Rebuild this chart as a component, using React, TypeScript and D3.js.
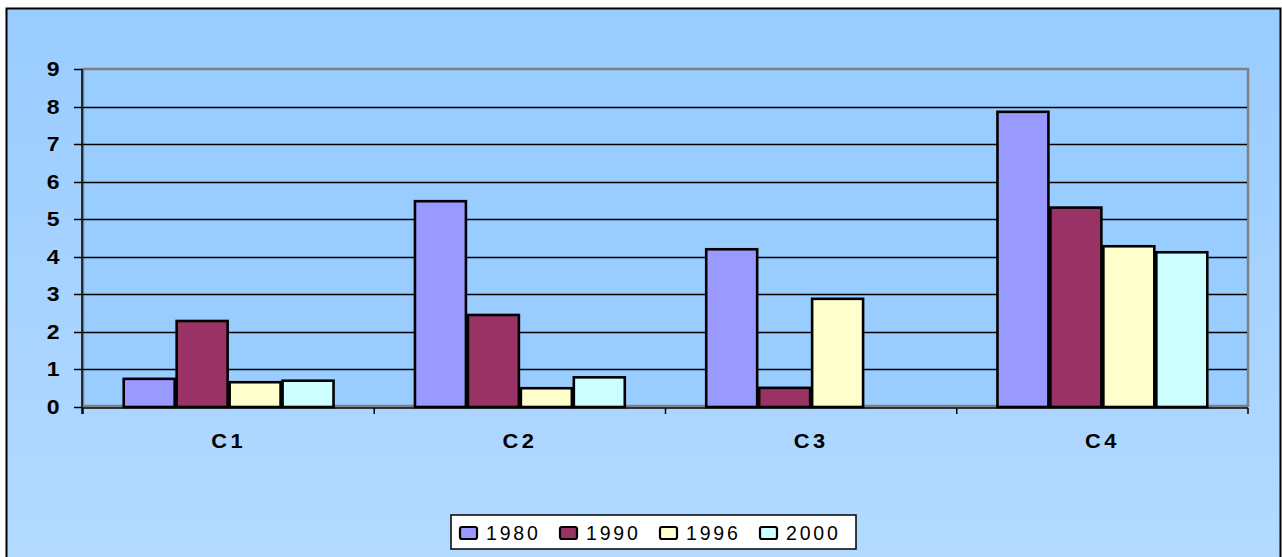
import React from "react";
import * as d3 from "d3";

const categories = ["C1", "C2", "C3", "C4"];
const seriesNames = ["1980", "1990", "1996", "2000"];
const values1980 = [0.75, 5.48, 4.2, 7.86];
const values1990 = [2.29, 2.45, 0.51, 5.31];
const values1996 = [0.66, 0.5, 2.88, 4.28];
const values2000 = [0.7, 0.79, 0, 4.12];
const yTicks = [0, 1, 2, 3, 4, 5, 6, 7, 8, 9];
const colors = ["#9999FF", "#993366", "#FFFFCC", "#CCFFFF"];

const W = 1282;
const H = 557;
const plot = { left: 83, right: 1248, top: 69, bottom: 407 };

export default function App() {
  const series = [values1980, values1990, values1996, values2000];
  const x0 = d3
    .scaleBand<string>()
    .domain(categories)
    .range([plot.left, plot.right])
    .paddingInner(0)
    .paddingOuter(0);
  const catW = x0.bandwidth();
  const barW = catW / (seriesNames.length + 1.5);
  const x1 = d3
    .scaleBand<string>()
    .domain(seriesNames)
    .range([0.75 * barW, 0.75 * barW + barW * seriesNames.length]);
  const y = d3.scaleLinear().domain([0, 9]).range([plot.bottom, plot.top]);
  const font = "'Liberation Sans', Arial, sans-serif";
  const boundaries = [...categories.map((c) => x0(c)!), plot.right];

  return (
    <svg
      width={W}
      height={H}
      style={{ position: "absolute", left: 0, top: 0, display: "block" }}
    >
      <defs>
        <linearGradient id="bg" x1="0" y1="0" x2="0" y2="1">
          <stop offset="0%" stopColor="#99CCFF" />
          <stop offset="100%" stopColor="#B4DAFF" />
        </linearGradient>
      </defs>
      <rect x={0} y={0} width={W} height={H} fill="#fff" />
      <rect
        x={6.5}
        y={8.5}
        width={1274}
        height={560}
        fill="url(#bg)"
        stroke="#000"
        strokeWidth={2}
      />
      {/* plot area */}
      <rect
        x={plot.left}
        y={plot.top}
        width={plot.right - plot.left}
        height={plot.bottom - plot.top - 1}
        fill="#99CCFF"
        stroke="#808080"
        strokeWidth={2.5}
      />
      {/* gridlines */}
      {yTicks
        .filter((t) => t > 0 && t < 9)
        .map((t) => (
          <line
            key={t}
            x1={plot.left}
            x2={plot.right - 1}
            y1={Math.round(y(t)) + 0.5}
            y2={Math.round(y(t)) + 0.5}
            stroke="#000"
            strokeWidth={1.3}
          />
        ))}
      {/* bars */}
      {categories.map((c, ci) => (
        <g key={c}>
          {seriesNames.map((s, si) => {
            const v = series[si][ci];
            if (!v) return null;
            const bx = x0(c)! + x1(s)!;
            return (
              <rect
                key={s}
                x={bx + 1}
                y={y(v)}
                width={x1.bandwidth() - 2}
                height={plot.bottom - y(v)}
                fill={colors[si]}
                stroke="#000"
                strokeWidth={2.6}
              />
            );
          })}
        </g>
      ))}
      {/* axes */}
      <line
        x1={plot.left - 1}
        x2={plot.left - 1}
        y1={plot.top}
        y2={plot.bottom + 7}
        stroke="#000"
        strokeWidth={1.5}
      />
      <line
        x1={plot.left - 1}
        x2={plot.right}
        y1={plot.bottom + 1}
        y2={plot.bottom + 1}
        stroke="#000"
        strokeWidth={1.5}
      />
      {yTicks.map((t) => (
        <g key={t}>
          <line
            x1={plot.left - 9}
            x2={plot.left - 1}
            y1={Math.round(y(t)) + 0.5}
            y2={Math.round(y(t)) + 0.5}
            stroke="#000"
            strokeWidth={1.5}
          />
          <text
            transform={`translate(59.5, ${y(t)}) scale(1.18, 1)`}
            dy="0.36em"
            textAnchor="end"
            fontFamily={font}
            fontWeight="bold"
            fontSize={19.5}
            fill="#000"
          >
            {t}
          </text>
        </g>
      ))}
      {boundaries.map((bx, i) => (
        <line
          key={i}
          x1={bx}
          x2={bx}
          y1={plot.bottom + 1}
          y2={plot.bottom + 7}
          stroke="#000"
          strokeWidth={1.5}
        />
      ))}
      {categories.map((c) => (
        <text
          key={c}
          transform={`translate(${x0(c)! + catW / 2}, 448) scale(1.12, 1)`}
          textAnchor="middle"
          fontFamily={font}
          fontWeight="bold"
          fontSize={19.5}
          letterSpacing={3}
          fill="#000"
        >
          {c}
        </text>
      ))}
      {/* legend */}
      <rect
        x={451}
        y={515}
        width={405}
        height={34}
        fill="#fff"
        stroke="#000"
        strokeWidth={1.5}
      />
      {seriesNames.map((s, i) => {
        const lx = 460 + i * 100;
        return (
          <g key={s}>
            <rect
              x={lx}
              y={527}
              width={17}
              height={12}
              rx={2}
              fill={colors[i]}
              stroke="#000"
              strokeWidth={2.2}
            />
            <text
              x={lx + 26}
              y={540}
              fontFamily={font}
              fontSize={19.5}
              letterSpacing={2.8}
              fill="#000"
            >
              {s}
            </text>
          </g>
        );
      })}
    </svg>
  );
}
